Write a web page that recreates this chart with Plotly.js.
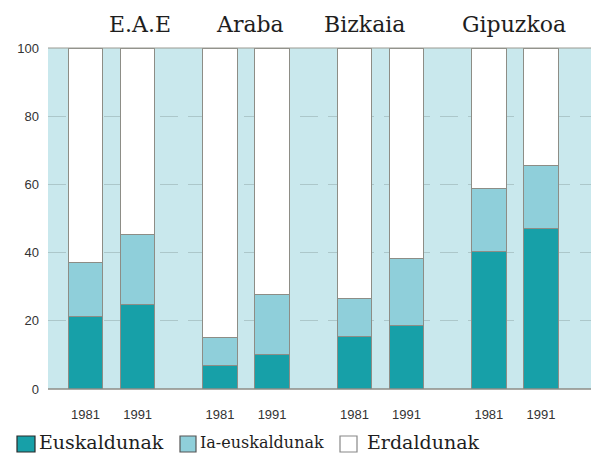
<!DOCTYPE html>
<html>
<head>
<meta charset="utf-8">
<script src="https://cdn.plot.ly/plotly-3.0.1.min.js"></script>
<style>
html,body{margin:0;padding:0;background:#fff;}
#chart{width:591px;height:455px;}
</style>
</head>
<body>
<div id="chart"></div>
<script>
// Data
const regions = ["E.A.E", "Araba", "Bizkaia", "Gipuzkoa"];
const years = ["1981", "1991"];
// bar order: E.A.E 1981, 1991, Araba 1981, 1991, Bizkaia 1981, 1991, Gipuzkoa 1981, 1991
const euskaldunak    = [21.4, 24.9, 6.8, 10.1, 15.5, 18.6, 40.3, 47.0];
const iaEuskaldunak  = [15.6, 20.4, 8.2, 17.7, 11.1, 19.8, 18.6, 18.6];
const erdaldunak     = [63.0, 54.7, 85.0, 72.2, 73.4, 61.6, 41.1, 34.4];
const seriesNames = ["Euskaldunak", "Ia-euskaldunak", "Erdaldunak"];
const seriesColors = ["#17a0a8", "#8fcfda", "#ffffff"];

// Layout helpers
const W = 591, H = 455, ML = 48, MR = 0, MT = 48, MB = 66;
const PW = W - ML - MR, PH = H - MT - MB;
const px2x = p => (p - ML) / PW;
const py2y = p => (H - MB - p) / PH;

const groupStep = 2.58;
const xpos = [];
const xlabels = [];
regions.forEach((r, gi) => {
  years.forEach((y, yi) => {
    xpos.push(gi * groupStep + yi);
    xlabels.push(y);
  });
});

const lineStyle = {color: "#8d8d86", width: 1};
const mk = (i, vals) => ({
  type: "bar",
  name: seriesNames[i],
  x: xpos,
  y: vals,
  width: 0.66,
  marker: {color: seriesColors[i], line: lineStyle},
  hoverinfo: "skip",
  showlegend: false
});

const traces = [
  mk(0, euskaldunak),
  mk(1, iaEuskaldunak),
  mk(2, erdaldunak)
];

const titleX = [140, 250, 364, 514]; // pixel centres for region titles
const annotations = regions.map((r, i) => ({
  text: r,
  xref: "paper", yref: "paper",
  x: px2x(titleX[i]),
  y: py2y(24),
  yanchor: "middle", xanchor: "center",
  showarrow: false,
  font: {family: "DejaVu Serif, serif", size: 22, color: "#1e1e1e"}
}));

// custom legend (boxes + text)
const legBox = [[17, 35], [180, 196], [340, 357]];
const legText = [38, 199, 366];
const legSize = [19, 16, 19];
const legLine = ["#2a2a2a", "#555", "#888"];
const shapes = [
  {type: "line", xref: "paper", yref: "paper", x0: 0, x1: 1, y0: 1, y1: 1, line: {color: "#9a9a92", width: 1}},
  {type: "line", xref: "paper", yref: "paper", x0: 0, x1: 1, y0: 0, y1: 0, line: {color: "#8d8d86", width: 1.5}}
];
seriesNames.forEach((n, i) => {
  shapes.push({
    type: "rect", xref: "paper", yref: "paper",
    x0: px2x(legBox[i][0]), x1: px2x(legBox[i][1]),
    y0: py2y(452), y1: py2y(436),
    fillcolor: seriesColors[i],
    line: {color: legLine[i], width: 1.2}
  });
  annotations.push({
    text: n,
    xref: "paper", yref: "paper",
    x: px2x(legText[i]), y: py2y(442),
    xanchor: "left", yanchor: "middle",
    borderpad: 0,
    showarrow: false,
    font: {family: "DejaVu Serif, serif", size: legSize[i], color: "#1e1e1e"}
  });
});

const layout = {
  width: W, height: H,
  margin: {l: ML, r: MR, t: MT, b: MB},
  paper_bgcolor: "#ffffff",
  plot_bgcolor: "#c9e8ed",
  barmode: "stack",
  bargap: 0,
  showlegend: false,
  xaxis: {
    range: [-0.72, 9.7],
    tickmode: "array",
    tickvals: xpos,
    ticktext: xlabels,
    showgrid: false,
    zeroline: false,
    showline: false,
    ticks: "",
    tickfont: {family: "Liberation Sans, Arial, sans-serif", size: 13, color: "#333"},
    ticklabelstandoff: 16
  },
  yaxis: {
    range: [0, 100],
    tickvals: [0, 20, 40, 60, 80, 100],
    showgrid: true,
    gridcolor: "rgba(130,150,150,0.4)",
    griddash: "18px,10px",
    gridwidth: 1,
    zeroline: false,
    showline: false,
    ticks: "",
    tickfont: {family: "Liberation Sans, Arial, sans-serif", size: 13, color: "#333"},
    ticklabelstandoff: 8
  },
  shapes: shapes,
  annotations: annotations
};

Plotly.newPlot("chart", traces, layout, {displayModeBar: false, staticPlot: true});
</script>
</body>
</html>
